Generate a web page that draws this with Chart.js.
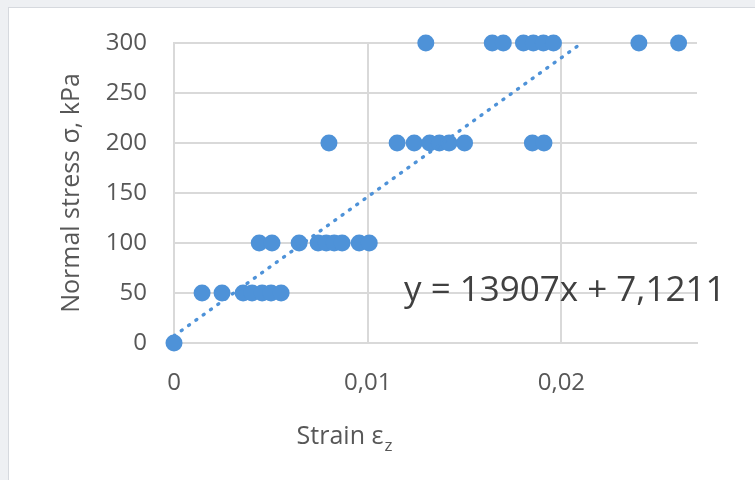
<!DOCTYPE html>
<html>
<head>
<meta charset="utf-8">
<script src="https://cdn.jsdelivr.net/npm/chart.js@4.4.1/dist/chart.umd.min.js"></script>
<style>
    html, body { margin: 0; padding: 0; background: #eef0f3; }
    body { width: 755px; height: 480px; position: relative; overflow: hidden; }
    .panel { position: absolute; left: 8px; top: 7px; width: 760px; height: 480px; background: #fff; border-left: 1px solid #d6d9de; border-top: 1px solid #d6d9de; }
    #chart { position: absolute; left: 0; top: 0; }
</style>
</head>
<body>
<div class="panel"></div>
<canvas id="chart" width="755" height="480"></canvas>
<script>
const strain = [
    0,
    0.00145, 0.00248, 0.00357, 0.00403, 0.00455, 0.00501, 0.00553,
    0.0044, 0.00506, 0.00646, 0.00744, 0.00786, 0.00827, 0.00868, 0.00956, 0.01008,
    0.0080, 0.01152, 0.0124, 0.0132, 0.0137, 0.0142, 0.0150, 0.0185, 0.0191,
    0.0130, 0.01643, 0.0170, 0.01804, 0.01855, 0.01907, 0.01959, 0.0240, 0.02605
];
const stress = [
    0,
    50, 50, 50, 50, 50, 50, 50,
    100, 100, 100, 100, 100, 100, 100, 100, 100,
    200, 200, 200, 200, 200, 200, 200, 200, 200,
    300, 300, 300, 300, 300, 300, 300, 300, 300
];

// linear trendline from the chart
const trendSlope = 13907;
const trendIntercept = 7.1211;
const equationText = 'y = 13907x + 7,1211';

const xTicks = [0, 0.01, 0.02];
const xTickLabels = ['0', '0,01', '0,02'];
const yTicks = [0, 50, 100, 150, 200, 250, 300];

const xTitle = 'Strain \u03b5';
const xTitleSub = 'z';
const yTitle = 'Normal stress \u03c3, kPa';

const blue = '#4e92d8';
const gridColor = '#d9d9d9';
const textColor = '#575757';
const fontFamily = '"Open Sans", Lato, sans-serif';

const points = strain.map((x, i) => ({ x: x, y: stress[i] }));
const trendEnd = (yTicks[yTicks.length - 1] - trendIntercept) / trendSlope;
const trendPoints = [
    { x: 0, y: trendIntercept },
    { x: trendEnd, y: trendSlope * trendEnd + trendIntercept }
];

// equation label + x title with subscript
const extraText = {
    id: 'extraText',
    afterDraw(chart) {
        const ctx = chart.ctx;
        ctx.save();
        ctx.fillStyle = '#404040';
        ctx.font = '35px ' + fontFamily;
        ctx.textBaseline = 'alphabetic';
        ctx.textAlign = 'left';
        ctx.fillText(equationText, 404, 301);

        ctx.fillStyle = textColor;
        ctx.font = '25px ' + fontFamily;
        const w1 = ctx.measureText(xTitle).width;
        ctx.font = '17px ' + fontFamily;
        const w2 = ctx.measureText(xTitleSub).width;
        const startX = 344 - (w1 + w2) / 2;
        ctx.font = '25px ' + fontFamily;
        ctx.fillText(xTitle, startX, 444);
        ctx.font = '17px ' + fontFamily;
        ctx.fillText(xTitleSub, startX + w1 + 1, 451);
        ctx.restore();
    }
};

const ctx = document.getElementById('chart').getContext('2d');

const stressChart = new Chart(ctx, {
    data: {
        datasets: [{
            type: 'line',
            data: trendPoints,
            borderColor: blue,
            borderWidth: 3.5,
            borderDash: [1, 8],
            borderCapStyle: 'round',
            pointRadius: 0,
            fill: false,
            clip: false,
            order: 0
        }, {
            type: 'scatter',
            data: points,
            backgroundColor: blue,
            borderColor: blue,
            borderWidth: 0,
            pointRadius: 8.5,
            clip: false,
            order: 1
        }]
    },
    options: {
        responsive: false,
        animation: false,
        layout: {
            padding: { left: 0, top: 43, right: 58, bottom: 0 }
        },
        scales: {
            x: {
                type: 'linear',
                min: 0,
                max: 0.027,
                afterFit: (s) => { s.height = 137; },
                afterBuildTicks: (s) => { s.ticks = xTicks.map(v => ({ value: v })); },
                grid: { color: gridColor, lineWidth: 2, drawTicks: false },
                border: { color: gridColor, width: 2 },
                ticks: {
                    padding: 26,
                    color: textColor,
                    font: { family: fontFamily, size: 24 },
                    callback: (v) => xTickLabels[xTicks.indexOf(v)]
                }
            },
            y: {
                type: 'linear',
                min: 0,
                max: 300,
                afterFit: (s) => { s.width = 174; },
                afterBuildTicks: (s) => { s.ticks = yTicks.map(v => ({ value: v })); },
                grid: { color: gridColor, lineWidth: 2, drawTicks: false },
                border: { color: gridColor, width: 2 },
                ticks: {
                    padding: 27,
                    color: textColor,
                    font: { family: fontFamily, size: 24 }
                },
                title: {
                    display: true,
                    text: yTitle,
                    color: textColor,
                    font: { family: fontFamily, size: 25 },
                    padding: { top: 57, bottom: 0 }
                }
            }
        },
        plugins: {
            legend: { display: false },
            tooltip: { enabled: false }
        }
    },
    plugins: [extraText]
});
</script>
</body>
</html>
